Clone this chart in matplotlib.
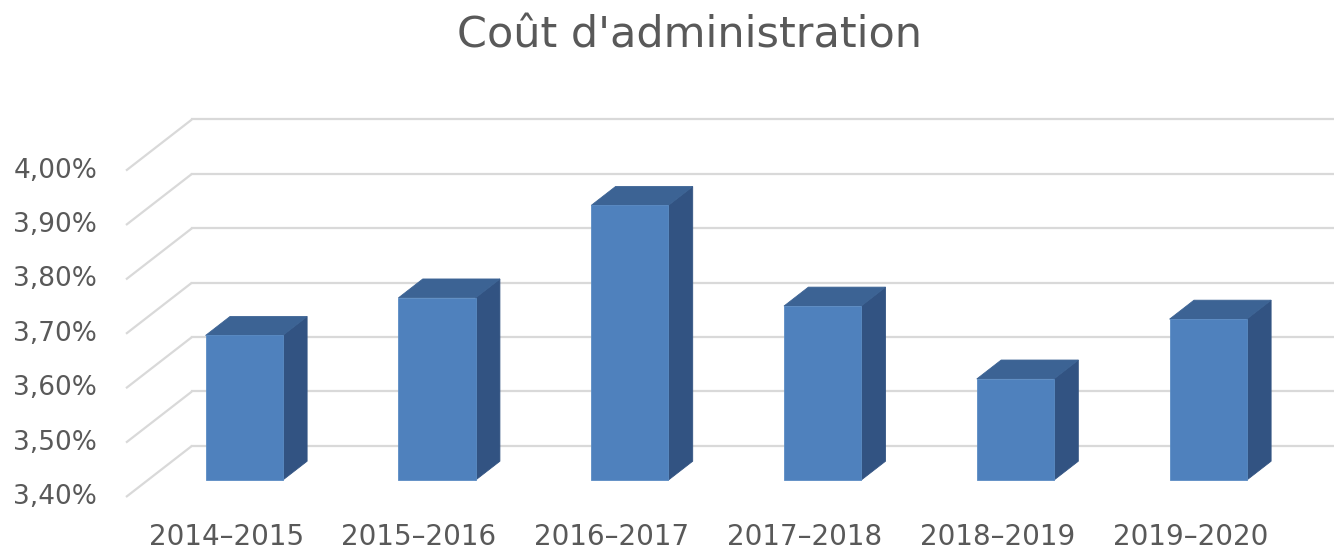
import matplotlib.pyplot as plt
from matplotlib.patches import Polygon

# donnees
categories = ['2014-2015', '2015-2016', '2016-2017', '2017-2018', '2018-2019', '2019-2020']
valeurs = [3.666, 3.735, 3.905, 3.72, 3.586, 3.696]  # en %
ticks = [3.40, 3.50, 3.60, 3.70, 3.80, 3.90, 4.00]
titre = "Coût d'administration"

# projection oblique (profondeur -> decalage x / y)
DX = 0.342   # en unites de categorie
DY = 0.094   # en unites de valeur (%)
d0, d1 = 0.33, 0.70   # profondeur avant / arriere des barres
largeur = 0.40
base = 3.40

c_face = '#4F81BD'
c_haut = '#3C6394'
c_cote = '#325382'
c_grille = '#d9d9d9'
c_texte = '#595959'

fig = plt.figure(figsize=(13.34, 5.5), dpi=100)
ax = fig.add_axes([0, 0, 1, 1])
ax.set_xlim(-0.6535, 6.2656)
ax.set_ylim(3.3026, 4.3136)
ax.axis('off')

n = len(categories)
xmax = 6.5

# grille : diagonale sur le mur gauche + ligne sur le mur du fond
for t in ticks:
    ax.plot([0, DX], [t, t + DY], color=c_grille, lw=1.6, zorder=1, solid_capstyle='butt')
    ax.plot([DX, xmax], [t + DY, t + DY], color=c_grille, lw=1.6, zorder=1)
    ax.text(-0.15, t, ('%.2f%%' % t).replace('.', ','), ha='right', va='center',
            fontsize=19, color=c_texte, family='DejaVu Sans')

# barres 3D
for i, v in enumerate(valeurs):
    x0 = i + 0.5 - largeur / 2 + d0 * DX
    x1 = x0 + largeur
    y0 = base + d0 * DY
    y1 = v + d0 * DY
    ex = (d1 - d0) * DX
    ey = (d1 - d0) * DY
    avant = Polygon([(x0, y0), (x1, y0), (x1, y1), (x0, y1)], closed=True,
                    facecolor=c_face, edgecolor='#5b8cc4', lw=0.6, zorder=3)
    haut = Polygon([(x0, y1), (x1, y1), (x1 + ex, y1 + ey), (x0 + ex, y1 + ey)], closed=True,
                   facecolor=c_haut, edgecolor=c_haut, lw=0.6, zorder=3)
    cote = Polygon([(x1, y0), (x1 + ex, y0 + ey), (x1 + ex, y1 + ey), (x1, y1)], closed=True,
                   facecolor=c_cote, edgecolor=c_cote, lw=0.6, zorder=3)
    for p in (cote, haut, avant):
        ax.add_patch(p)
    ax.text(i + 0.52, 3.3265, categories[i].replace('-', '–'), ha='center', va='center',
            fontsize=20, color=c_texte, family='DejaVu Sans')

ax.text(0.517, 0.935, titre, transform=ax.transAxes, ha='center', va='center',
        fontsize=31, color=c_texte, family='DejaVu Sans')

fig.savefig('out.png', dpi=100, facecolor='white')
